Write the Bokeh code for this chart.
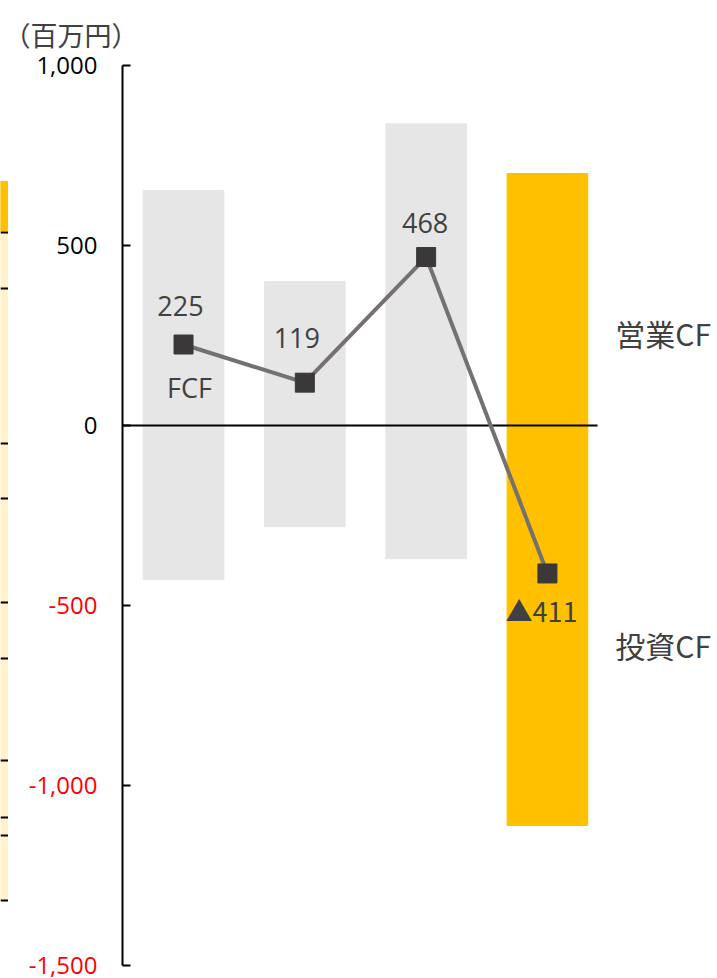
from bokeh.plotting import figure
from bokeh.layouts import row
from bokeh.models import Range1d, FixedTicker, LinearAxis, NumeralTickFormatter, Title
from bokeh.core.properties import value
from bokeh.embed import file_html
from bokeh.resources import INLINE

# --- data (百万円) ---
periods = [0, 1, 2, 3]
operating_cf = [653, 400, 838, 700]
investing_cf = [-428, -281, -370, -1111]
fcf = [225, 119, 468, -411]
fcf_labels = ["225", "119", "468", "▲411"]
bar_colors = ["#E7E6E6", "#E7E6E6", "#E7E6E6", "#FFC000"]
pos_ticks = [1000, 500, 0]
neg_ticks = [-500, -1000, -1500]
side_labels = ["営業CF", "投資CF"]
side_label_y = [256, -611]

# clipped neighbouring table edge (pixel rows of the strip)
strip_head = (181, 231)
strip_body = (231, 900)
strip_rules = [232, 288, 443, 498, 602, 658, 760, 817, 835, 900]

LATIN = value("Open Sans")
CJK = value("Noto Sans CJK JP")
TEXT = "#404040"

# --- left strip ---
strip = figure(width=8, height=978, output_backend="svg", toolbar_location=None,
               x_range=Range1d(0, 8), y_range=Range1d(965, 65),
               min_border=0, outline_line_color=None)
strip.axis.visible = False
strip.grid.visible = False
strip.quad(left=0, right=8, top=strip_head[0], bottom=strip_head[1], color="#FFC000")
strip.quad(left=0, right=8, top=strip_body[0], bottom=strip_body[1], color="#FFF2CC")
strip.segment(x0=0, x1=8, y0=strip_rules, y1=strip_rules, line_color="black", line_width=2)

# --- main chart ---
p = figure(width=709, height=978, output_backend="svg", toolbar_location=None,
           x_range=Range1d(-0.503, 4.402), y_range=Range1d(-1500, 1000),
           min_border_left=114, min_border_right=0, min_border_top=65,
           min_border_bottom=13, outline_line_color=None)
p.xaxis.visible = False
p.grid.visible = False

# inner axis: line, all ticks, black labels for the non-negative values
yax = p.yaxis[0]
yax.ticker = FixedTicker(ticks=pos_ticks + neg_ticks)
yax.formatter = NumeralTickFormatter(format="0,0")
yax.major_label_overrides = {t: "" for t in neg_ticks}
yax.major_tick_in = 8
yax.major_tick_out = 0
yax.minor_tick_line_color = None
yax.axis_line_width = 2
yax.major_tick_line_width = 2
yax.axis_line_color = "black"
yax.major_tick_line_color = "black"
yax.major_label_text_font = "Open Sans"
yax.major_label_text_font_size = "24px"
yax.major_label_text_color = "black"
yax.major_label_standoff = 25

# outer axis: red labels for the negative values, pulled back under the inner labels
neg_axis = LinearAxis(ticker=FixedTicker(ticks=neg_ticks),
                      formatter=NumeralTickFormatter(format="0,0"),
                      axis_line_color=None, major_tick_line_color=None,
                      minor_tick_line_color=None,
                      major_label_text_font="Open Sans",
                      major_label_text_font_size="24px",
                      major_label_text_color="#FF0000",
                      major_label_standoff=-70)
p.add_layout(neg_axis, "left")

# unit caption
p.add_layout(Title(text="（百万円）", align="left", offset=-119, standoff=24,
                   text_font="Noto Sans CJK JP", text_font_size="27px",
                   text_font_style="normal", text_color=TEXT), "above")

# stacked operating / investing CF columns
p.vbar(x=periods, bottom=0, top=operating_cf, width=0.665, color=bar_colors)
p.vbar(x=periods, bottom=investing_cf, top=0, width=0.665, color=bar_colors)

# zero line
p.segment(x0=-0.503, x1=3.413, y0=0, y1=0, line_color="black", line_width=2)

# free cash flow line
p.line(periods, fcf, line_color="#767171", line_width=4)
p.scatter(periods, fcf, marker="square", size=19, color="#3A3838")

# value labels
lx = [-3, -8, -1, -6]
ly = [-39, -45, -34, 37]
fonts = [LATIN, LATIN, LATIN, CJK]
for i in range(4):
    p.text(x=[periods[i]], y=[fcf[i]], text=[fcf_labels[i]], x_offset=lx[i], y_offset=ly[i],
           text_align="center", text_baseline="middle", text_font=fonts[i],
           text_font_size="27px", text_color=TEXT)
p.text(x=[periods[0]], y=[fcf[0]], text=["FCF"], x_offset=6, y_offset=43,
       text_align="center", text_baseline="middle", text_font=LATIN,
       text_font_size="27px", text_color=TEXT)

# series names on the right
p.text(x=[3.56, 3.56], y=side_label_y, text=side_labels, text_align="left",
       text_baseline="middle", text_font=CJK, text_font_size="30px", text_color=TEXT)

layout = row(strip, p, spacing=0)
open("out.html", "w").write(file_html(layout, INLINE))
